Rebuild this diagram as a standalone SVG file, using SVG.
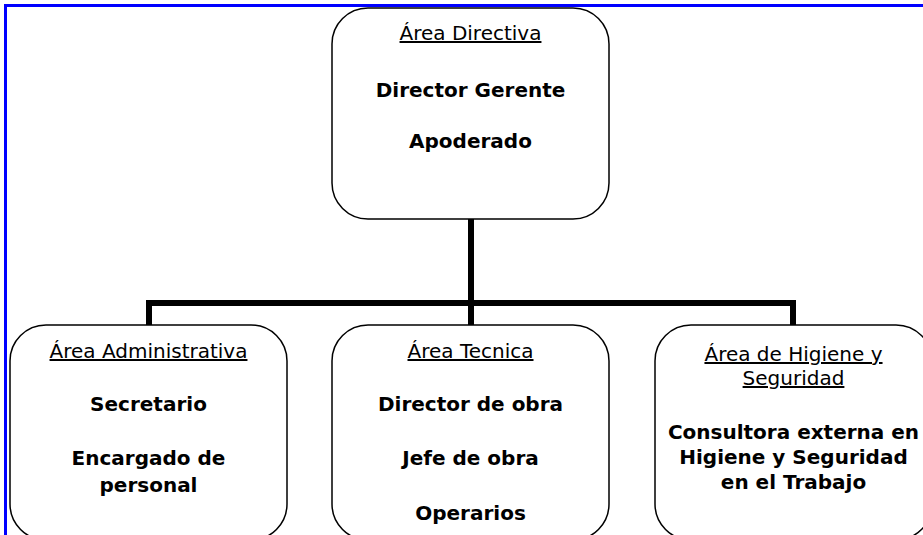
<svg xmlns="http://www.w3.org/2000/svg" width="923" height="535" viewBox="0 0 923 535">
<style>
.box{fill:#fff;stroke:#000;stroke-width:1.5}
.h{font-family:"DejaVu Sans",Verdana,sans-serif;font-size:20px;text-anchor:middle;text-decoration:underline}
.b{font-family:"DejaVu Sans",Verdana,sans-serif;font-size:20px;font-weight:bold;text-anchor:middle}
.c{fill:none;stroke:#000;stroke-width:6}
</style>
<rect x="0" y="0" width="923" height="535" fill="#fff"/>
<path d="M5.5 535 V5.5 H923" fill="none" stroke="#0000ff" stroke-width="3"/>
<g id="connectors">
<path class="c" d="M471 219 V303 M149 325 V303 H793 V325 M471 303 V325"/>
</g>
<g id="n-directiva">
<rect class="box" x="332" y="8" width="277" height="211" rx="36"/>
<text class="h" x="470.5" y="40">Área Directiva</text>
<text class="b" x="470.5" y="97">Director Gerente</text>
<text class="b" x="470.5" y="148">Apoderado</text>
</g>
<g id="n-administrativa">
<rect class="box" x="10" y="325" width="277" height="215" rx="36"/>
<text class="h" x="148.5" y="358">Área Administrativa</text>
<text class="b" x="148.5" y="411">Secretario</text>
<text class="b" x="148.5" y="465">Encargado de</text>
<text class="b" x="148.5" y="492">personal</text>
</g>
<g id="n-tecnica">
<rect class="box" x="332" y="325" width="277" height="215" rx="36"/>
<text class="h" x="470.5" y="358">Área Tecnica</text>
<text class="b" x="470.5" y="411">Director de obra</text>
<text class="b" x="470.5" y="465">Jefe de obra</text>
<text class="b" x="470.5" y="520">Operarios</text>
</g>
<g id="n-higiene">
<rect class="box" x="655" y="325" width="277" height="215" rx="36"/>
<text class="h" x="793.5" y="361">Área de Higiene y</text>
<text class="h" x="793.5" y="385">Seguridad</text>
<text class="b" x="793.5" y="439">Consultora externa en</text>
<text class="b" x="793.5" y="464">Higiene y Seguridad</text>
<text class="b" x="793.5" y="489">en el Trabajo</text>
</g>
</svg>
